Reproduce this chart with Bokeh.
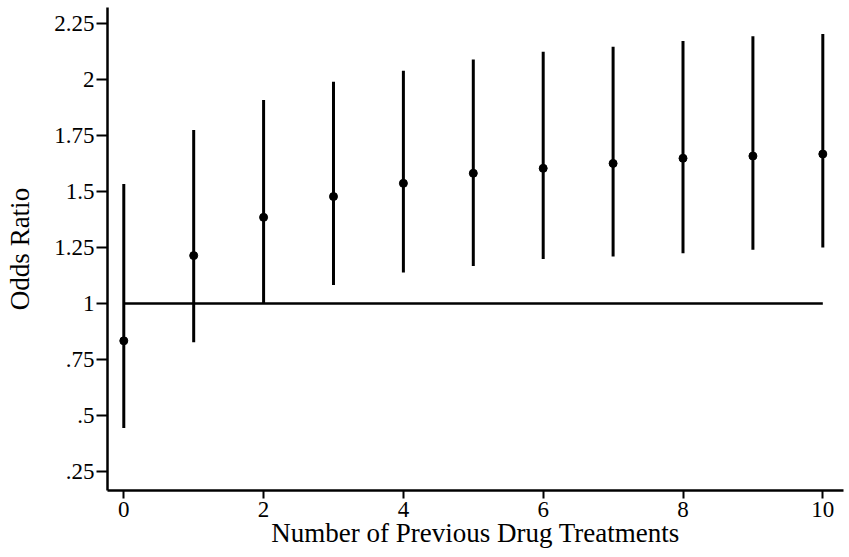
from bokeh.plotting import figure
from bokeh.models import Range1d, FixedTicker, ColumnDataSource
from bokeh.embed import file_html
from bokeh.resources import INLINE

# Data
treatments = [0, 1, 2, 3, 4, 5, 6, 7, 8, 9, 10]
odds_ratio = [0.833, 1.214, 1.385, 1.478, 1.537, 1.582, 1.604, 1.626, 1.649, 1.659, 1.668]
ci_lower = [0.443, 0.827, 1.0, 1.083, 1.138, 1.168, 1.199, 1.210, 1.225, 1.240, 1.250]
ci_upper = [1.534, 1.775, 1.909, 1.991, 2.040, 2.091, 2.125, 2.147, 2.173, 2.195, 2.204]
ref_x = [0, 10]
ref_y = [1, 1]

y_ticks = [0.25, 0.5, 0.75, 1, 1.25, 1.5, 1.75, 2, 2.25]
y_tick_labels = [".25", ".5", ".75", "1", "1.25", "1.5", "1.75", "2", "2.25"]
x_ticks = [0, 2, 4, 6, 8, 10]

FONT = "Liberation Serif"

src = ColumnDataSource(dict(x=treatments, y=odds_ratio, lo=ci_lower, hi=ci_upper))

p = figure(width=849, height=557, output_backend="svg", toolbar_location=None,
           x_range=Range1d(-0.233, 10.296), y_range=Range1d(0.164, 2.323),
           min_border_left=107, min_border_right=6, min_border_top=7, min_border_bottom=67)
p.outline_line_color = None
p.xgrid.visible = False
p.ygrid.visible = False
p.background_fill_color = "white"
p.border_fill_color = "white"

p.segment(x0="x", y0="lo", x1="x", y1="hi", source=src, line_color="black", line_width=3)
p.line(ref_x, ref_y, line_color="black", line_width=2.5)
p.scatter(x="x", y="y", source=src, size=8, marker="circle", fill_color="black", line_color="black")

for ax in (p.xaxis[0], p.yaxis[0]):
    ax.axis_line_width = 2.5
    ax.axis_line_color = "black"
    ax.major_tick_line_width = 2
    ax.major_tick_line_color = "black"
    ax.minor_tick_line_color = None
    ax.major_tick_in = 0
    ax.major_label_text_font = FONT
    ax.major_label_text_font_size = "23px"
    ax.major_label_text_color = "black"
    ax.axis_label_text_font = FONT
    ax.axis_label_text_font_size = "27px"
    ax.axis_label_text_font_style = "normal"
    ax.axis_label_text_color = "black"

p.xaxis.ticker = FixedTicker(ticks=x_ticks)
p.xaxis.major_tick_out = 8
p.xaxis.major_label_standoff = 3
p.xaxis.axis_label = "Number of Previous Drug Treatments"
p.xaxis.axis_label_standoff = -2

p.yaxis.ticker = FixedTicker(ticks=y_ticks)
p.yaxis.major_label_overrides = {t: l for t, l in zip(y_ticks, y_tick_labels)}
p.yaxis.major_tick_out = 11
p.yaxis.major_label_orientation = "horizontal"
p.yaxis.major_label_standoff = 2
p.yaxis.axis_label = "Odds Ratio"
p.yaxis.axis_label_standoff = 16

open("out.html", "w").write(file_html(p, INLINE))
